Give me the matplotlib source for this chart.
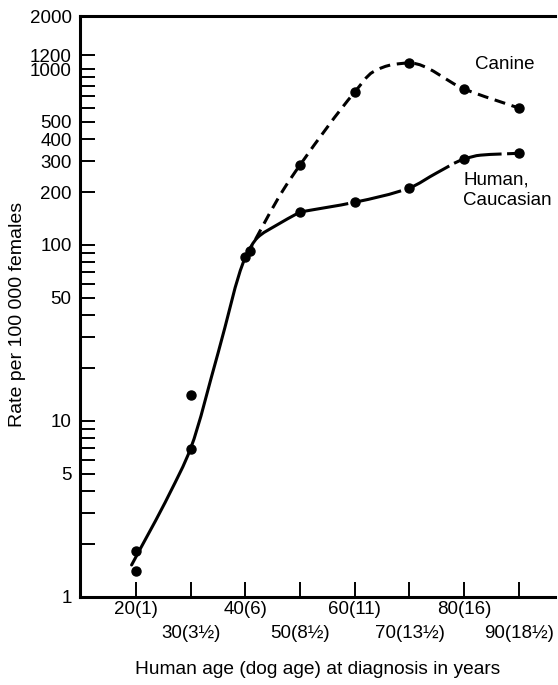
import numpy as np
import matplotlib
matplotlib.use('Agg')
import matplotlib.pyplot as plt
from matplotlib.path import Path
from matplotlib.patches import PathPatch
from matplotlib.ticker import NullFormatter

plt.rcParams['font.family'] = ['Liberation Sans', 'DejaVu Sans']

human_x = [20, 20, 30, 30, 40, 50, 60, 70, 80, 90]
human_y = [1.83, 1.40, 14.1, 6.9, 85, 154, 175, 211, 308, 332]
canine_x = [40.8, 50, 60, 70, 80, 90]
canine_y = [92, 285, 740, 1082, 770, 600]

# Hand-drawn fitted curves (knots)
human_fit_x = [19.2, 26.2, 30, 35, 40, 42.2, 45.4, 50, 60, 70, 75, 80, 83, 90]
human_fit_y = [1.52, 3.9, 7.0, 24.3, 85, 110, 128, 154, 175, 211, 257, 308, 324, 332]
canine_fit_x = [40.3, 46.9, 50, 60, 63.3, 67, 70, 80, 90]
canine_fit_y = [88, 205, 285, 740, 961, 1060, 1082, 770, 600]

# Axis ticks
xticks_row1 = [20, 40, 60, 80]
xlabels_row1 = ['20(1)', '40(6)', '60(11)', '80(16)']
xticks_row2 = [30, 50, 70, 90]
xlabels_row2 = ['30(3½)', '50(8½)', '70(13½)', '90(18½)']
yticks_major = [1, 5, 10, 50, 100, 200, 300, 400, 500, 1000, 1200, 2000]
yticks_minor = [2, 3, 4, 6, 7, 8, 9, 20, 30, 40, 60, 70, 80, 90, 600, 700, 800, 900]


def smooth_path(xs, ys):
    # monotone cubic (Fritsch-Carlson) in (x, log y), handed to matplotlib as Bezier segments
    x = np.asarray(xs, float)
    L = np.log10(ys)
    h = np.diff(x)
    s = np.diff(L) / h
    d = np.zeros_like(x)
    d[0], d[-1] = s[0], s[-1]
    for i in range(1, len(x) - 1):
        if s[i - 1] * s[i] > 0:
            w1 = 2 * h[i] + h[i - 1]
            w2 = h[i] + 2 * h[i - 1]
            d[i] = (w1 + w2) / (w1 / s[i - 1] + w2 / s[i])
    verts = [(x[0], L[0])]
    codes = [Path.MOVETO]
    for i in range(len(x) - 1):
        verts += [(x[i] + h[i] / 3., L[i] + d[i] * h[i] / 3.),
                  (x[i + 1] - h[i] / 3., L[i + 1] - d[i + 1] * h[i] / 3.),
                  (x[i + 1], L[i + 1])]
        codes += [Path.CURVE4] * 3
    verts = np.array(verts)
    verts[:, 1] = 10 ** verts[:, 1]
    return Path(verts, codes)


fig = plt.figure(figsize=(5.58, 6.85), dpi=100)
ax = fig.add_axes([0.1434, 0.1285, 0.8512, 0.8481])
ax.set_yscale('log')
ax.set_xlim(9.77, 96.6)
ax.set_ylim(1, 2000)

# Human: solid up to 50, long dashes after
k = human_fit_x.index(50)
ax.add_patch(PathPatch(smooth_path(human_fit_x[:k + 1], human_fit_y[:k + 1]),
                       fill=False, lw=2.2, ec='black', capstyle='round'))
ax.add_patch(PathPatch(smooth_path(human_fit_x[k:], human_fit_y[k:]),
                       fill=False, lw=2.2, ec='black', ls=(0, (16, 1.8))))
ax.add_patch(PathPatch(smooth_path(canine_fit_x, canine_fit_y),
                       fill=False, lw=2.2, ec='black', ls=(0, (3.6, 2.2))))

ax.plot(human_x, human_y, 'o', color='black', ms=6.5)
ax.plot(canine_x, canine_y, 'o', color='black', ms=6.5)

ax.text(82, 1067, 'Canine', fontsize=13.5, ha='left', va='center')
ax.text(79.8, 204, 'Human,\nCaucasian', fontsize=13.5, ha='left', va='center', linespacing=1.3)

ax.set_xticks(xticks_row1)
ax.set_xticklabels(xlabels_row1, fontsize=13.5)
ax.set_xticks(xticks_row2, minor=True)
ax.set_xticklabels(xlabels_row2, minor=True, fontsize=13.5)
ax.set_yticks(yticks_major)
ax.set_yticklabels([str(v) for v in yticks_major], fontsize=13.5)
ax.set_yticks(yticks_minor, minor=True)
ax.yaxis.set_minor_formatter(NullFormatter())
ax.tick_params(axis='both', which='both', direction='in', length=10.8, width=1.4)
ax.tick_params(axis='x', which='major', pad=2.8)
ax.tick_params(axis='x', which='minor', pad=20)
ax.tick_params(axis='y', pad=6)

for s in ['left', 'bottom', 'top']:
    ax.spines[s].set_linewidth(2.2)
ax.spines['right'].set_visible(False)

ax.set_xlabel('Human age (dog age) at diagnosis in years', fontsize=13.8, labelpad=14)
ax.set_ylabel('Rate per 100 000 females', fontsize=14)
ax.yaxis.set_label_coords(-0.1137, 0.487)

plt.savefig('out.png', dpi=100)
